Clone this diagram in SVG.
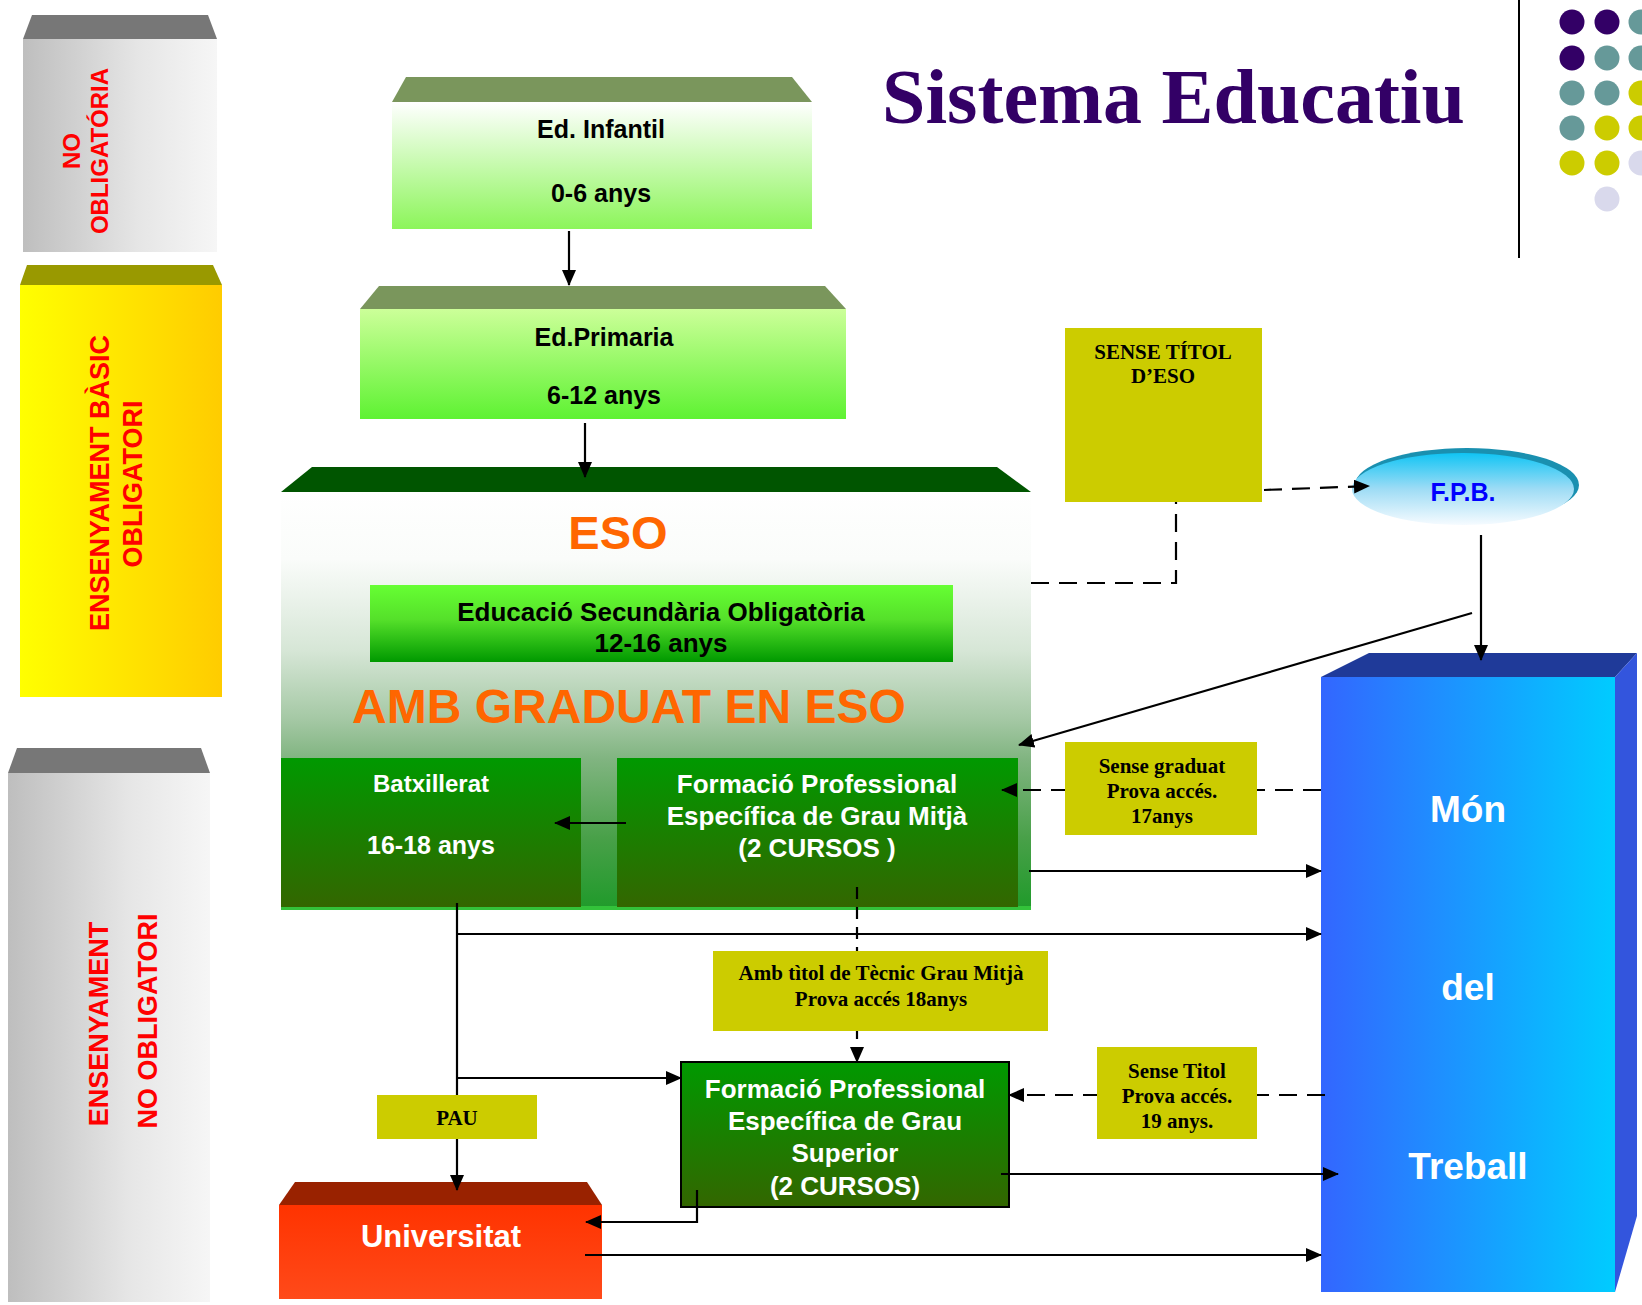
<svg xmlns="http://www.w3.org/2000/svg" width="1642" height="1305" viewBox="0 0 1642 1305">
<style>
.sans{font-family:"Liberation Sans",Arial,sans-serif;font-weight:bold}
.serif{font-family:"Liberation Serif","Times New Roman",serif;font-weight:bold}
.red{fill:#ff0000;font-size:27px}
.blk{fill:#000}
.wht{fill:#fff}
.lbl{fill:#cccc00}
.ln{fill:none;stroke:#000;stroke-width:2.2}
.dash{stroke-dasharray:18 10}
.dash2{stroke-dasharray:12 8}
</style>
<defs>
<marker id="ah" viewBox="0 0 16 14" refX="15" refY="7" markerWidth="16" markerHeight="14" markerUnits="userSpaceOnUse" orient="auto"><path d="M0,0 L16,7 L0,14 z" fill="#000"/></marker>
<linearGradient id="gGray" x1="0" y1="0" x2="1" y2="0"><stop offset="0" stop-color="#bebebe"/><stop offset="0.6" stop-color="#e6e6e6"/><stop offset="1" stop-color="#f6f6f6"/></linearGradient>
<linearGradient id="gYel" x1="0" y1="0" x2="1" y2="0"><stop offset="0" stop-color="#ffff00"/><stop offset="1" stop-color="#ffcc00"/></linearGradient>
<linearGradient id="gInf" x1="0" y1="0" x2="0" y2="1"><stop offset="0" stop-color="#ffffff"/><stop offset="1" stop-color="#8cf55a"/></linearGradient>
<linearGradient id="gPri" x1="0" y1="0" x2="0" y2="1"><stop offset="0" stop-color="#ccff99"/><stop offset="1" stop-color="#5ef232"/></linearGradient>
<linearGradient id="gEso" x1="0" y1="0" x2="0" y2="1"><stop offset="0" stop-color="#ffffff"/><stop offset="0.16" stop-color="#fafcfa"/><stop offset="0.38" stop-color="#d6e6d6"/><stop offset="0.545" stop-color="#a4c8a4"/><stop offset="0.64" stop-color="#80b480"/><stop offset="0.83" stop-color="#48a048"/><stop offset="1" stop-color="#1f9a2a"/></linearGradient>
<linearGradient id="gSec" x1="0" y1="0" x2="0" y2="1"><stop offset="0" stop-color="#66ff33"/><stop offset="0.45" stop-color="#55e02a"/><stop offset="1" stop-color="#009900"/></linearGradient>
<linearGradient id="gDk" x1="0" y1="0" x2="0" y2="1"><stop offset="0" stop-color="#009900"/><stop offset="1" stop-color="#336600"/></linearGradient>
<linearGradient id="gUni" x1="0" y1="0" x2="0" y2="1"><stop offset="0" stop-color="#ff3300"/><stop offset="1" stop-color="#ff4a1a"/></linearGradient>
<linearGradient id="gMon" x1="0" y1="0" x2="1" y2="0"><stop offset="0" stop-color="#3366ff"/><stop offset="1" stop-color="#00ccff"/></linearGradient>
<linearGradient id="gFpb" x1="0" y1="0" x2="0" y2="1"><stop offset="0" stop-color="#10c4f4"/><stop offset="0.5" stop-color="#9edcf5"/><stop offset="1" stop-color="#f6fbff"/></linearGradient>
</defs>
<rect width="1642" height="1305" fill="#fff"/>

<g id="title">
<text x="882" y="123" class="serif" font-size="78" fill="#330066">Sistema Educatiu</text>
<line x1="1519" y1="0" x2="1519" y2="258" stroke="#000" stroke-width="2"/>
<g id="dots">
<circle cx="1572" cy="22" r="12.5" fill="#330066"/><circle cx="1607" cy="22" r="12.5" fill="#330066"/><circle cx="1641" cy="22" r="12.5" fill="#669999"/>
<circle cx="1572" cy="58" r="12.5" fill="#330066"/><circle cx="1607" cy="58" r="12.5" fill="#669999"/><circle cx="1641" cy="58" r="12.5" fill="#669999"/>
<circle cx="1572" cy="93" r="12.5" fill="#669999"/><circle cx="1607" cy="93" r="12.5" fill="#669999"/><circle cx="1641" cy="93" r="12.5" fill="#cccc00"/>
<circle cx="1572" cy="128" r="12.5" fill="#669999"/><circle cx="1607" cy="128" r="12.5" fill="#cccc00"/><circle cx="1641" cy="128" r="12.5" fill="#cccc00"/>
<circle cx="1572" cy="163" r="12.5" fill="#cccc00"/><circle cx="1607" cy="163" r="12.5" fill="#cccc00"/><circle cx="1641" cy="163" r="12.5" fill="#d9d9ec"/>
<circle cx="1607" cy="199" r="12.5" fill="#d9d9ec"/>
</g>
</g>

<g id="no-obligatoria">
<polygon points="32,15 208,15 217,39 23,39" fill="#777777"/>
<rect x="23" y="39" width="194" height="213" fill="url(#gGray)"/>
<text transform="translate(80,151) rotate(-90)" text-anchor="middle" class="sans" fill="#ff0000" font-size="24">NO</text>
<text transform="translate(108,151) rotate(-90)" text-anchor="middle" class="sans" fill="#ff0000" font-size="24">OBLIGATÓRIA</text>
</g>

<g id="basic-obligatori">
<polygon points="27,265 213,265 222,285 20,285" fill="#999900"/>
<rect x="20" y="285" width="202" height="412" fill="url(#gYel)"/>
<text transform="translate(109,483) rotate(-90)" text-anchor="middle" class="sans red">ENSENYAMENT BÀSIC</text>
<text transform="translate(142,484) rotate(-90)" text-anchor="middle" class="sans red">OBLIGATORI</text>
</g>

<g id="no-obligatori">
<polygon points="17,748 201,748 210,773 8,773" fill="#777777"/>
<rect x="8" y="773" width="202" height="529" fill="url(#gGray)"/>
<text transform="translate(108,1024) rotate(-90)" text-anchor="middle" class="sans red">ENSENYAMENT</text>
<text transform="translate(157,1021) rotate(-90)" text-anchor="middle" class="sans red">NO OBLIGATORI</text>
</g>

<g id="infantil">
<polygon points="406,77 792,77 812,102 392,102" fill="#7a965c"/>
<rect x="392" y="102" width="420" height="127" fill="url(#gInf)"/>
<text x="601" y="138" text-anchor="middle" class="sans blk" font-size="25">Ed. Infantil</text>
<text x="601" y="202" text-anchor="middle" class="sans blk" font-size="25">0-6 anys</text>
</g>

<g id="primaria">
<polygon points="379,286 825,286 846,309 360,309" fill="#7a965c"/>
<rect x="360" y="309" width="486" height="110" fill="url(#gPri)"/>
<text x="604" y="346" text-anchor="middle" class="sans blk" font-size="25">Ed.Primaria</text>
<text x="604" y="404" text-anchor="middle" class="sans blk" font-size="25">6-12 anys</text>
</g>

<g id="eso">
<polygon points="312,467 997,467 1031,492 281,492" fill="#005500"/>
<rect x="281" y="492" width="750" height="418" fill="url(#gEso)"/>
<rect x="281" y="906" width="750" height="4" fill="#33c23a"/>
<text x="618" y="549" text-anchor="middle" class="sans" fill="#ff6600" font-size="47">ESO</text>
<rect x="370" y="585" width="583" height="77" fill="url(#gSec)"/>
<text x="661" y="621" text-anchor="middle" class="sans blk" font-size="26">Educació Secundària Obligatòria</text>
<text x="661" y="652" text-anchor="middle" class="sans blk" font-size="26">12-16 anys</text>
<text x="629" y="723" text-anchor="middle" class="sans" fill="#ff6600" font-size="48">AMB GRADUAT EN ESO</text>
</g>

<g id="batxillerat">
<rect x="281" y="758" width="300" height="149" fill="url(#gDk)"/>
<text x="431" y="792" text-anchor="middle" class="sans wht" font-size="24">Batxillerat</text>
<text x="431" y="854" text-anchor="middle" class="sans wht" font-size="25">16-18 anys</text>
</g>

<g id="fp-mitja">
<rect x="617" y="758" width="401" height="149" fill="url(#gDk)"/>
<text x="817" y="793" text-anchor="middle" class="sans wht" font-size="26">Formació Professional</text>
<text x="817" y="825" text-anchor="middle" class="sans wht" font-size="26">Específica de Grau Mitjà</text>
<text x="817" y="857" text-anchor="middle" class="sans wht" font-size="26">(2 CURSOS )</text>
</g>

<g id="fpb">
<ellipse cx="1467" cy="485" rx="112" ry="37" fill="#1a90b0"/>
<ellipse cx="1463" cy="489" rx="111" ry="36" fill="url(#gFpb)"/>
<text x="1463" y="501" text-anchor="middle" class="sans" fill="#0000ff" font-size="25">F.P.B.</text>
</g>

<g id="mon-treball">
<polygon points="1369,653 1637,653 1615,677 1321,677" fill="#1f3a99"/>
<polygon points="1637,653 1637,1216 1615,1292 1615,677" fill="#3355dd"/>
<rect x="1321" y="677" width="294" height="615" fill="url(#gMon)"/>
<text x="1468" y="822" text-anchor="middle" class="sans wht" font-size="37">Món</text>
<text x="1468" y="1000" text-anchor="middle" class="sans wht" font-size="37">del</text>
<text x="1468" y="1179" text-anchor="middle" class="sans wht" font-size="37">Treball</text>
</g>

<g id="fp-superior">
<rect x="681" y="1062" width="328" height="145" fill="url(#gDk)" stroke="#000" stroke-width="2"/>
<text x="845" y="1098" text-anchor="middle" class="sans wht" font-size="26">Formació Professional</text>
<text x="845" y="1130" text-anchor="middle" class="sans wht" font-size="26">Específica de Grau</text>
<text x="845" y="1162" text-anchor="middle" class="sans wht" font-size="26">Superior</text>
<text x="845" y="1195" text-anchor="middle" class="sans wht" font-size="26">(2 CURSOS)</text>
</g>

<g id="universitat">
<polygon points="295,1182 587,1182 602,1205 279,1205" fill="#992200"/>
<rect x="279" y="1205" width="323" height="94" fill="url(#gUni)"/>
<text x="441" y="1247" text-anchor="middle" class="sans wht" font-size="31">Universitat</text>
</g>

<g id="connectors">
<path class="ln" d="M569,231 V285" marker-end="url(#ah)"/>
<path class="ln" d="M585,423 V477" marker-end="url(#ah)"/>
<path class="ln" d="M626,823 H555" marker-end="url(#ah)"/>
<path class="ln dash" d="M1031,583 H1176 V502"/>
<path class="ln dash" d="M1264,490 L1369,486" marker-end="url(#ah)"/>
<path class="ln" d="M1481,535 V660" marker-end="url(#ah)"/>
<path class="ln" d="M1472,613 L1019,745" marker-end="url(#ah)"/>
<path class="ln dash" d="M1321,790 H1002" marker-end="url(#ah)"/>
<path class="ln" d="M1029,871 H1321" marker-end="url(#ah)"/>
<path class="ln" d="M457,903 V1190" marker-end="url(#ah)"/>
<path class="ln" d="M457,934 H1321" marker-end="url(#ah)"/>
<path class="ln" d="M457,1078 H681" marker-end="url(#ah)"/>
<path class="ln dash2" d="M857,887 V1062" marker-end="url(#ah)"/>
<path class="ln dash" d="M1325,1095 H1009" marker-end="url(#ah)"/>
<path class="ln" d="M697,1190 V1222 H586" marker-end="url(#ah)"/>
<path class="ln" d="M1001,1174 H1338" marker-end="url(#ah)"/>
<path class="ln" d="M585,1255 H1321" marker-end="url(#ah)"/>
</g>

<g id="sense-titol-eso">
<rect x="1065" y="328" width="197" height="174" class="lbl"/>
<text x="1163" y="359" text-anchor="middle" class="serif blk" font-size="21">SENSE TÍTOL</text>
<text x="1163" y="383" text-anchor="middle" class="serif blk" font-size="21">D’ESO</text>
</g>

<g id="sense-graduat">
<rect x="1065" y="742" width="192" height="93" class="lbl"/>
<text x="1162" y="773" text-anchor="middle" class="serif blk" font-size="21">Sense graduat</text>
<text x="1162" y="798" text-anchor="middle" class="serif blk" font-size="21">Prova accés.</text>
<text x="1162" y="823" text-anchor="middle" class="serif blk" font-size="21">17anys</text>
</g>

<g id="amb-titol">
<rect x="713" y="951" width="335" height="80" class="lbl"/>
<text x="881" y="980" text-anchor="middle" class="serif blk" font-size="21">Amb tìtol de Tècnic Grau Mitjà</text>
<text x="881" y="1006" text-anchor="middle" class="serif blk" font-size="21">Prova accés 18anys</text>
</g>

<g id="pau">
<rect x="377" y="1095" width="160" height="44" class="lbl"/>
<text x="457" y="1125" text-anchor="middle" class="serif blk" font-size="21">PAU</text>
</g>

<g id="sense-titol">
<rect x="1097" y="1047" width="160" height="92" class="lbl"/>
<text x="1177" y="1078" text-anchor="middle" class="serif blk" font-size="21">Sense Titol</text>
<text x="1177" y="1103" text-anchor="middle" class="serif blk" font-size="21">Prova accés.</text>
<text x="1177" y="1128" text-anchor="middle" class="serif blk" font-size="21">19 anys.</text>
</g>
</svg>
